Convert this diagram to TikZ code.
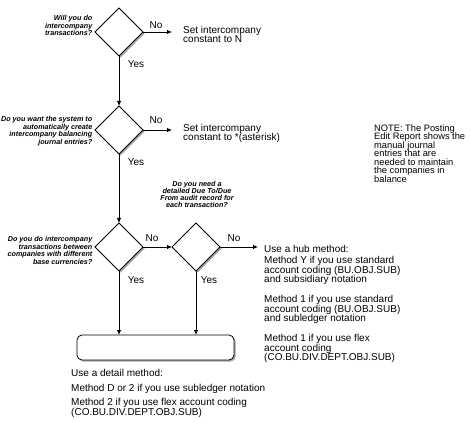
\documentclass[tikz,border=0pt]{standalone}
\usepackage{fontspec}
\setmainfont{Liberation Sans}
\usetikzlibrary{shapes.geometric,shadows,arrows.meta}
\tikzset{
dec/.style={diamond,draw,line width=0.8pt,fill=white,minimum width=48pt,minimum height=48pt,inner sep=0pt,outer sep=0pt,drop shadow={shadow xshift=1.6pt,shadow yshift=-1.6pt,fill=black!35,opacity=1}},
endbox/.style={draw,line width=0.8pt,fill=white,rounded corners=5pt,minimum width=157pt,minimum height=25pt,inner sep=0pt,outer sep=0pt,drop shadow={shadow xshift=1.6pt,shadow yshift=-1.6pt,fill=black!35,opacity=1}},
arr/.style={line width=0.8pt,-{Latex[length=5pt,width=4.5pt]}},
txt/.style={anchor=base west,inner sep=0pt,font=\fontsize{10}{10}\selectfont},
note/.style={anchor=base west,inner sep=0pt,font=\fontsize{9.3}{9}\selectfont},
ask/.style={anchor=base east,inner sep=0pt,font=\fontsize{7.2}{7}\selectfont\bfseries\itshape},
lbl/.style={anchor=base,inner sep=0pt,font=\fontsize{10}{10}\selectfont}
}
\begin{document}
\begin{tikzpicture}[x=1pt,y=-1pt]
\pgfmathsetmacro{\kbase}{3.5}
\pgfmathsetmacro{\kask}{2.5}
\useasboundingbox (0,0) rectangle (471,422);
\node[dec](will) at (119,32){};
\node[dec](auto) at (119,130){};
\node[dec](base) at (119,247){};
\node[dec](audit) at (196,247){};
\node[endbox](detail) at (155.5,347.5){};
\coordinate(toN) at (172,32);
\coordinate(toStar) at (172,130);
\coordinate(toHub) at (258,247);
\draw[arr](will.east)--(toN);
\draw[arr](auto.east)--(toStar);
\draw[arr](will.south)--(auto.north);
\draw[arr](auto.south)--(base.north);
\draw[arr](base.east)--(audit.west);
\draw[arr](audit.east)--(toHub);
\draw[arr](base.south)--(base.south|-detail.north);
\draw[arr](audit.south)--(audit.south|-detail.north);
\foreach \x/\y [count=\i] in {156/25,156/120,152/238,234/238}{\node[lbl](no\i) at (\x,\y+\kbase){No};}
\foreach \x/\y [count=\i] in {136/64,136/162,136/280,209/280}{\node[lbl](yes\i) at (\x,\y+\kbase){Yes};}
\foreach \y/\a [count=\i] in {18.3/{Will you do},25.7/{intercompany},33.3/{transactions?}}{\node[ask](willq\i) at (92.5,\y+\kask){\a};}
\foreach \y/\a [count=\i] in {119/{Do you want the system to},126.7/{automatically create},134.4/{intercompany balancing},142.1/{journal entries?}}{\node[ask](autoq\i) at (92.5,\y+\kask){\a};}
\foreach \y/\a [count=\i] in {239/{Do you do intercompany},246.5/{transactions between},254/{companies with different},261.5/{base currencies?}}{\node[ask](baseq\i) at (92.5,\y+\kask){\a};}
\foreach \y/\a [count=\i] in {184/{Do you need a},191/{detailed Due To/Due},198/{From audit record for},205/{each transaction?}}{\node[ask,anchor=base](auditq\i) at (197,\y+\kask){\a};}
\foreach \y/\a [count=\i] in {30/{Set intercompany},39.5/{constant to N}}{\node[txt](setN\i) at (183,\y+\kbase){\a};}
\foreach \y/\a [count=\i] in {128/{Set intercompany},137.5/{constant to *(asterisk)}}{\node[txt](setStar\i) at (183,\y+\kbase){\a};}
\foreach \y/\a [count=\i] in {128/{NOTE: The Posting},136.5/{Edit Report shows the},145/{manual journal},153.5/{entries that are},162/{needed to maintain},170.5/{the companies in},179/{balance}}{\node[note](note\i) at (374,\y+3.3){\a};}
\foreach \y/\a [count=\i] in {249/{Use a hub method:},260/{Method Y if you use standard},269.5/{account coding (BU.OBJ.SUB)},279/{and subsidiary notation},299/{Method 1 if you use standard},308.5/{account coding (BU.OBJ.SUB)},318/{and subledger notation},338/{Method 1 if you use flex},347.5/{account coding},357/{(CO.BU.DIV.DEPT.OBJ.SUB)}}{\node[txt](hub\i) at (264,\y+\kbase){\a};}
\foreach \y/\a [count=\i] in {373/{Use a detail method:},388/{Method D or 2 if you use subledger notation},402/{Method 2 if you use flex account coding},411.5/{(CO.BU.DIV.DEPT.OBJ.SUB)}}{\node[txt](det\i) at (71,\y+\kbase){\a};}
\end{tikzpicture}
\end{document}
